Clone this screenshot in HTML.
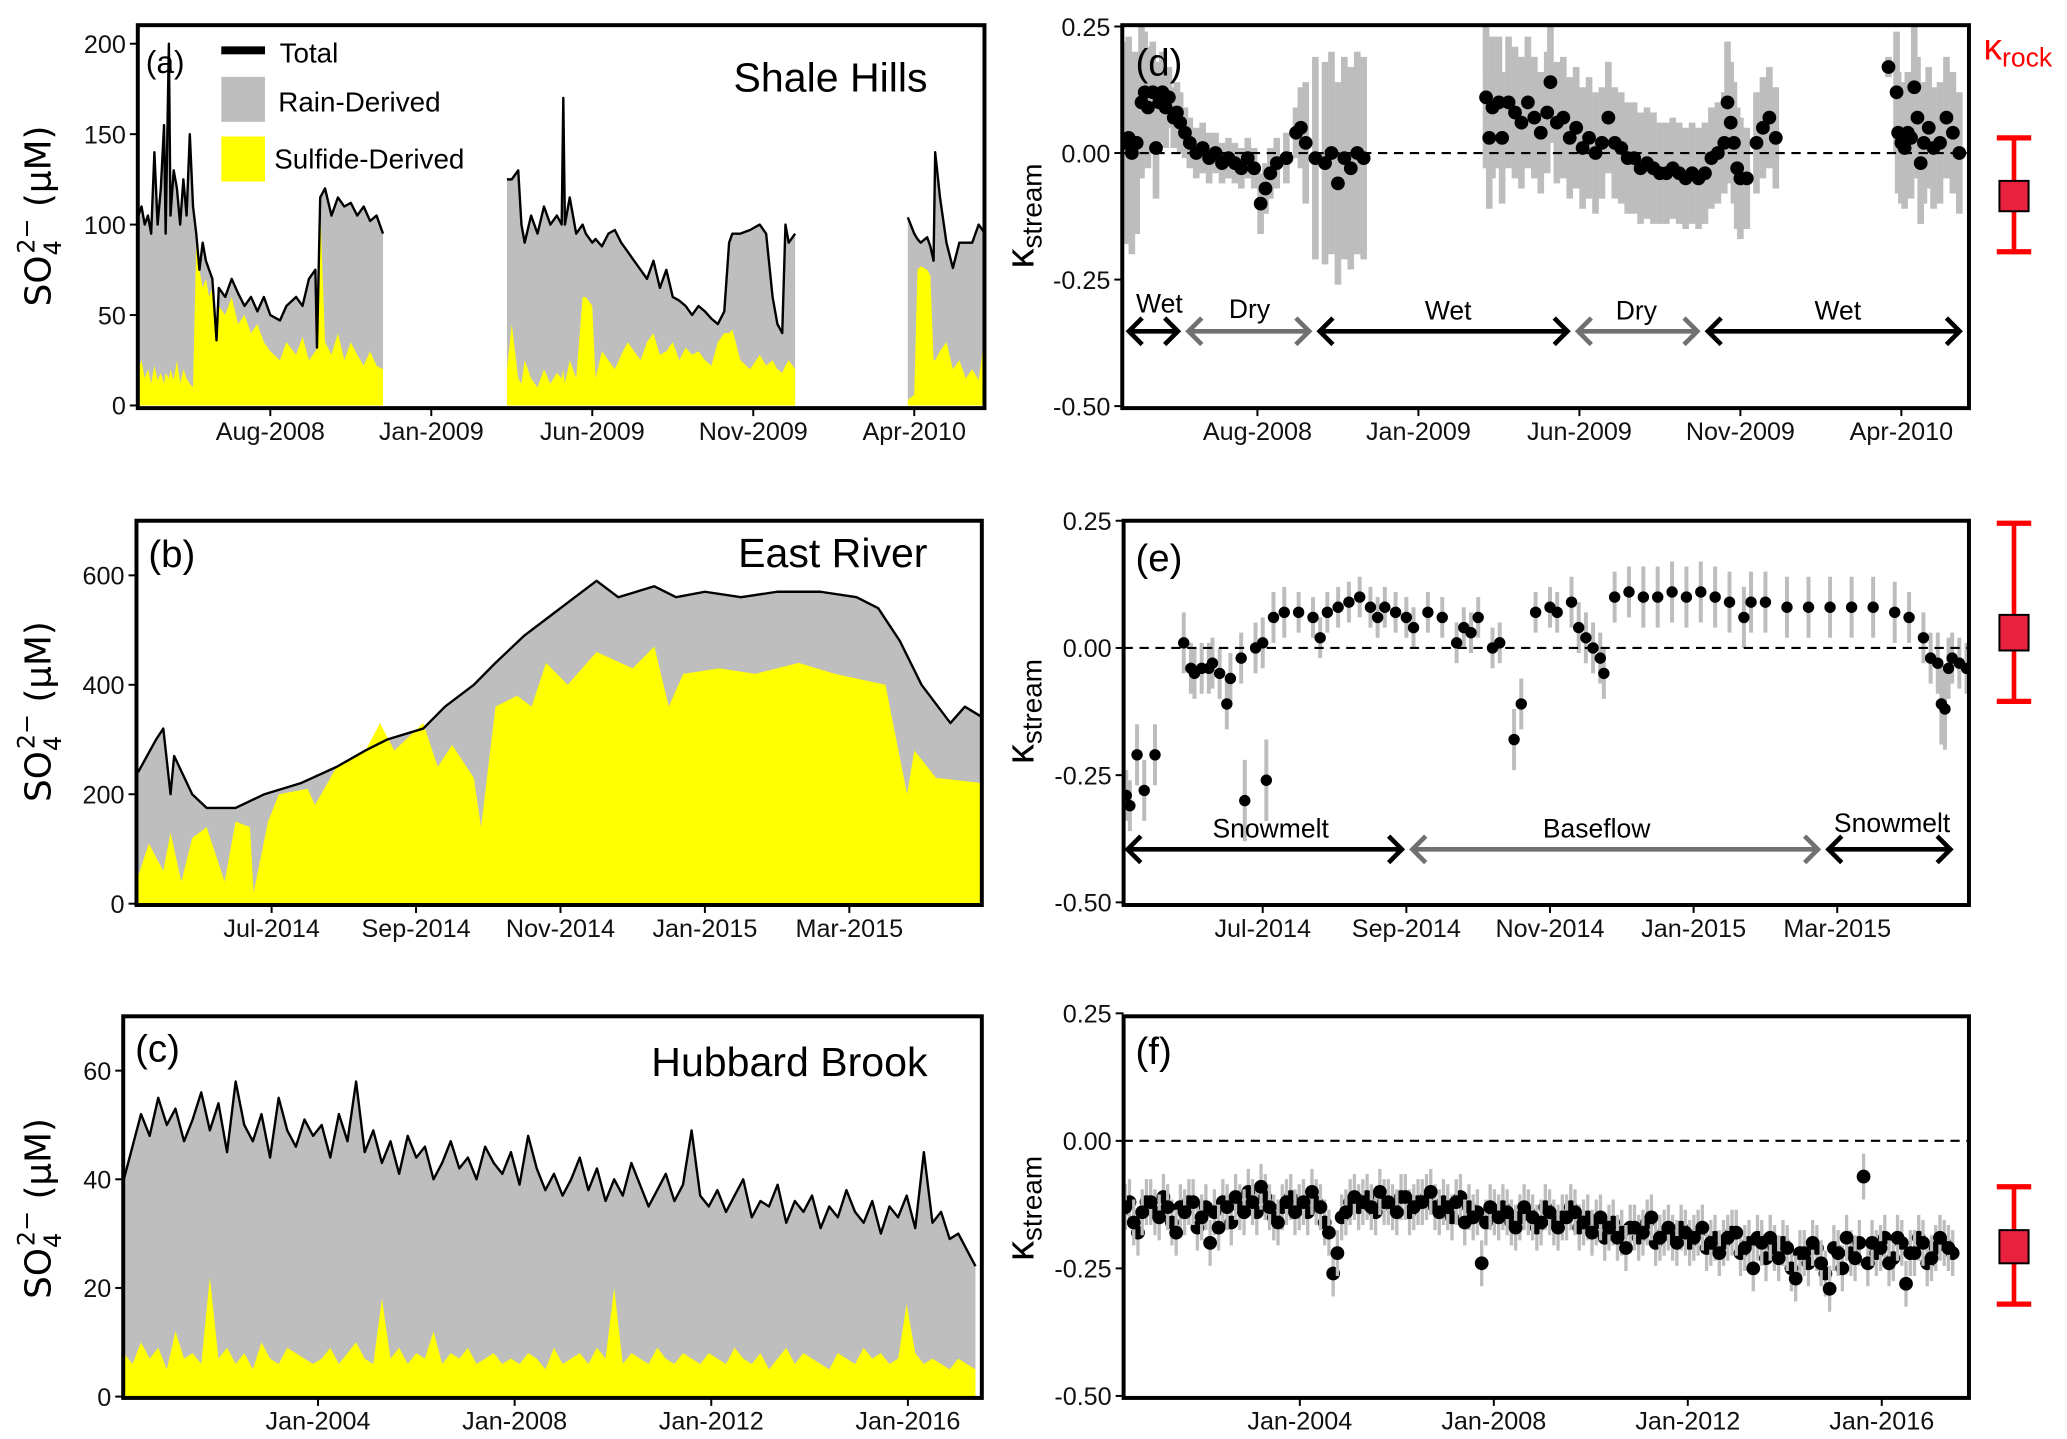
<!DOCTYPE html>
<html><head><meta charset="utf-8"><style>
html,body{margin:0;padding:0;background:#fff;}
svg{display:block;}
text{font-family:"Liberation Sans Narrow","Liberation Sans",sans-serif;}
.tk{font-size:19px;fill:#111;}
.big{font-family:"DejaVu Sans","Liberation Sans",sans-serif;}
</style></head><body>
<svg id="fig" width="2067" height="1439" viewBox="0 0 1560 1086" preserveAspectRatio="none" xmlns="http://www.w3.org/2000/svg">
<defs>
<clipPath id="ca"><rect x="104" y="19" width="639" height="289"/></clipPath>
<clipPath id="cb"><rect x="103" y="393" width="638" height="290"/></clipPath>
<clipPath id="cc"><rect x="93" y="767" width="648" height="288"/></clipPath>
<clipPath id="cd"><rect x="847" y="19" width="639" height="289"/></clipPath>
<clipPath id="ce"><rect x="848" y="393" width="638" height="290"/></clipPath>
<clipPath id="cf"><rect x="848" y="767" width="638" height="288"/></clipPath>
</defs>
<g id="layer"></g>
</svg>
<script>
// ---------- Panel (a) Shale Hills: month index (Jan-2008 = 0)
const aM1=[2.9,3.0,3.1,3.2,3.3,3.4,3.5,3.6,3.7,3.75,3.85,3.9,4.0,4.1,4.2,4.3,4.4,4.5,4.6,4.7,4.8,4.9,5.0,5.1,5.2,5.33,5.4,5.6,5.8,6.0,6.2,6.4,6.6,6.8,7.0,7.3,7.5,7.8,8.0,8.2,8.4,8.45,8.55,8.7,8.9,9.1,9.3,9.5,9.7,9.9,10.1,10.3,10.5];
const aT1=[105,110,100,105,95,140,100,120,155,95,200,105,130,120,100,125,105,150,110,95,75,90,80,75,70,36,65,60,70,62,55,60,52,60,50,47,55,60,55,70,75,32,115,120,105,115,110,112,105,110,102,105,95];
const aS1=[20,25,15,20,12,22,14,18,12,18,15,20,14,25,12,20,15,12,10,90,75,65,70,60,65,36,55,50,60,45,50,40,45,35,30,25,35,28,38,25,30,32,110,35,28,40,25,35,28,22,30,22,20];
const aM2=[14.35,14.5,14.7,14.8,14.9,15.1,15.3,15.5,15.7,15.9,16.05,16.1,16.15,16.3,16.5,16.7,16.8,17.0,17.1,17.3,17.5,17.7,17.9,18.1,18.3,18.5,18.7,18.9,19.1,19.3,19.5,19.7,19.9,20.1,20.3,20.5,20.7,20.9,21.1,21.25,21.35,21.6,21.9,22.2,22.4,22.6,22.75,22.9,23.0,23.1,23.3];
const aT2=[125,125,130,100,90,105,95,110,100,105,100,170,100,115,95,100,95,90,92,88,95,97,90,85,80,75,70,80,65,75,60,58,55,50,55,52,48,45,52,90,95,95,97,100,95,60,45,40,100,90,95];
const aS2=[20,45,15,12,25,15,10,20,12,18,15,20,12,25,15,60,60,55,15,30,25,20,28,35,30,25,35,40,28,30,35,25,32,28,30,25,22,35,40,40,42,25,20,28,22,25,20,18,22,25,20];
const aM3=[26.8,27.0,27.1,27.2,27.4,27.5,27.6,27.65,27.8,28.0,28.2,28.4,28.6,28.8,29.0,29.2,29.3];
const aT3=[104,95,92,90,93,88,80,140,115,90,76,90,90,90,100,95,85];
const aS3=[3,6,75,77,75,72,25,25,30,35,20,25,15,20,14,40,60];
const aYTicks=[0,50,100,150,200];
const adXTickMonths=[7,12,17,22,27];
const adXTickLabels=["Aug-2008","Jan-2009","Jun-2009","Nov-2009","Apr-2010"];
// ---------- Panel (b) East River: month index (Jan-2014 = 0)
const bMT=[4.15,4.4,4.5,4.6,4.65,4.9,5.1,5.5,5.9,6.4,6.9,7.3,7.6,8.1,8.4,8.8,9.1,9.5,9.8,10.2,10.5,10.8,11.3,11.6,12,12.5,13,13.6,14.1,14.4,14.7,15,15.4,15.6,15.85];
const bT=[240,300,320,200,270,200,175,175,200,220,250,280,300,320,360,400,440,490,520,560,590,560,580,560,570,560,570,570,560,540,480,400,330,360,340];
const bMS=[4.15,4.3,4.5,4.6,4.75,4.9,5.1,5.35,5.5,5.7,5.75,5.95,6.1,6.5,6.6,6.9,7.3,7.5,7.7,8.1,8.3,8.5,8.8,8.9,9.1,9.4,9.6,9.8,10.1,10.5,11,11.3,11.5,11.7,12.2,12.7,13.3,13.8,14.5,14.8,14.9,15.2,15.85];
const bS=[50,110,60,130,40,120,140,40,150,140,20,150,200,210,180,250,280,330,280,330,250,290,230,140,360,380,360,440,400,460,430,470,360,420,430,420,440,420,400,200,280,230,220];
const bYTicks=[0,200,400,600];
const beXTickMonths=[6,8,10,12,14];
const beXTickLabels=["Jul-2014","Sep-2014","Nov-2014","Jan-2015","Mar-2015"];
// ---------- Panel (c) Hubbard Brook: ~0.175-yr samples from 2000
const cT=[40,46,52,48,55,50,53,47,51,56,49,54,45,58,50,47,52,44,55,49,46,51,48,
50,44,52,47,58,45,49,43,47,41,48,44,46,40,43,47,42,44,40,46,43,41,45,
39,48,42,38,41,37,40,44,38,42,36,40,37,43,39,35,38,41,36,39,49,37,35,
38,34,37,40,33,36,35,39,32,36,34,37,31,35,33,38,34,32,36,30,35,33,37,31,45,32,34,29,30,27,24];
const cS=[8,6,10,7,9,5,12,7,8,6,22,7,9,6,8,5,10,7,6,9,8,7,6,
7,9,6,8,10,7,6,18,7,9,6,8,7,12,6,8,7,9,6,7,8,6,7,
6,8,7,5,9,6,7,8,6,9,7,20,6,8,7,6,9,7,6,8,7,6,8,
7,6,9,7,6,8,5,7,9,6,8,7,6,5,8,7,6,9,7,8,6,7,17,8,6,7,6,5,7,6,5];
const cYTicks=[0,20,40,60];
const cfXTickYears=[2004,2008,2012,2016];
const cfXTickLabels=["Jan-2004","Jan-2008","Jan-2012","Jan-2016"];
// ---------- Panel (d) kappa Shale Hills
const dM=[2.9,3.0,3.1,3.25,3.4,3.5,3.6,3.75,3.85,3.95,4.05,4.15,4.25,4.4,4.5,4.6,4.75,4.9,5.1,5.3,5.5,5.7,5.9,6.1,6.3,6.5,6.7,6.9,7.1,7.25,7.4,7.6,7.9,8.2,8.35,8.5,8.8,9.1,9.3,9.5,9.7,9.9,10.1,10.3,
14.1,14.2,14.3,14.5,14.6,14.8,15.0,15.2,15.4,15.6,15.8,16.0,16.1,16.3,16.5,16.7,16.9,17.1,17.3,17.5,17.7,17.9,18.1,18.3,18.5,18.7,18.9,19.1,19.3,19.5,19.7,19.9,20.1,20.3,20.5,20.7,20.9,21.1,21.3,21.5,21.6,21.7,21.8,21.9,22.0,22.2,22.5,22.7,22.9,23.1,
26.6,26.85,26.9,27.0,27.1,27.2,27.3,27.4,27.5,27.6,27.7,27.85,28.0,28.2,28.4,28.6,28.8];
const dK=[0.02,0.03,0.0,0.02,0.1,0.12,0.09,0.12,0.01,0.1,0.12,0.09,0.11,0.07,0.08,0.06,0.04,0.02,0.0,0.01,-0.01,0.0,-0.02,-0.01,-0.02,-0.03,-0.01,-0.03,-0.1,-0.07,-0.04,-0.02,-0.01,0.04,0.05,0.02,-0.01,-0.02,0.0,-0.06,-0.01,-0.03,0.0,-0.01,
0.11,0.03,0.09,0.1,0.03,0.1,0.08,0.06,0.1,0.07,0.04,0.08,0.14,0.06,0.07,0.03,0.05,0.01,0.03,0.0,0.02,0.07,0.02,0.01,-0.01,-0.01,-0.03,-0.02,-0.03,-0.04,-0.04,-0.03,-0.04,-0.05,-0.04,-0.05,-0.04,-0.01,0.0,0.02,0.1,0.06,0.02,-0.03,-0.05,-0.05,0.02,0.05,0.07,0.03,
0.17,0.12,0.04,0.02,0.01,0.04,0.03,0.13,0.07,-0.02,0.02,0.05,0.01,0.02,0.07,0.04,0.0];
const dErr=[0.2,0.2,0.2,0.18,0.15,0.12,0.12,0.1,0.1,0.08,0.08,0.08,0.06,0.06,0.06,0.06,0.05,0.05,0.05,0.05,0.05,0.04,0.04,0.04,0.04,0.04,0.04,0.04,0.06,0.05,0.05,0.05,0.05,0.05,0.08,0.12,0.2,0.2,0.2,0.2,0.2,0.2,0.2,0.2,
0.14,0.14,0.14,0.13,0.13,0.13,0.13,0.13,0.13,0.12,0.12,0.12,0.12,0.12,0.12,0.12,0.12,0.12,0.12,0.12,0.11,0.11,0.11,0.11,0.11,0.11,0.11,0.11,0.11,0.1,0.1,0.1,0.1,0.1,0.1,0.1,0.1,0.1,0.1,0.1,0.12,0.12,0.12,0.12,0.12,0.1,0.1,0.1,0.1,0.1,
0.02,0.12,0.12,0.12,0.12,0.12,0.12,0.12,0.12,0.12,0.12,0.12,0.12,0.12,0.12,0.12,0.12];
const dYTicks=[0.25,0,-0.25,-0.5];
const dYLabels=["0.25","0.00","-0.25","-0.50"];
// ---------- Panel (e) kappa East River
const eM=[4.1,4.15,4.25,4.35,4.5,4.9,5.0,5.05,5.15,5.25,5.3,5.4,5.5,5.55,5.7,5.75,5.9,6.0,6.05,6.15,6.3,6.5,6.7,6.8,6.9,7.05,7.2,7.35,7.5,7.6,7.7,7.85,8.0,8.1,8.3,8.5,8.7,8.8,8.9,9.0,9.2,9.3,9.5,9.6,9.8,10.0,10.1,10.3,10.4,10.5,10.6,10.7,10.75,10.9,11.1,11.3,11.5,11.7,11.9,12.1,12.3,12.5,12.7,12.8,13,13.3,13.6,13.9,14.2,14.5,14.8,15.0,15.2,15.3,15.4,15.45,15.5,15.55,15.6,15.7,15.8];
const eK=[-0.29,-0.31,-0.21,-0.28,-0.21,0.01,-0.04,-0.05,-0.04,-0.04,-0.03,-0.05,-0.11,-0.06,-0.02,-0.3,0.0,0.01,-0.26,0.06,0.07,0.07,0.06,0.02,0.07,0.08,0.09,0.1,0.08,0.06,0.08,0.07,0.06,0.04,0.07,0.06,0.01,0.04,0.03,0.06,0.0,0.01,-0.18,-0.11,0.07,0.08,0.07,0.09,0.04,0.02,0.0,-0.02,-0.05,0.1,0.11,0.1,0.1,0.11,0.1,0.11,0.1,0.09,0.06,0.09,0.09,0.08,0.08,0.08,0.08,0.08,0.07,0.06,0.02,-0.02,-0.03,-0.11,-0.12,-0.04,-0.02,-0.03,-0.04];
const eErr=[0.05,0.05,0.06,0.06,0.06,0.06,0.05,0.05,0.05,0.05,0.05,0.05,0.05,0.05,0.05,0.08,0.05,0.05,0.08,0.05,0.05,0.04,0.04,0.04,0.04,0.04,0.04,0.04,0.04,0.04,0.04,0.04,0.04,0.04,0.04,0.04,0.04,0.04,0.04,0.04,0.04,0.04,0.06,0.05,0.04,0.04,0.04,0.05,0.05,0.05,0.05,0.05,0.05,0.05,0.05,0.06,0.06,0.06,0.06,0.06,0.06,0.06,0.06,0.06,0.06,0.06,0.06,0.06,0.06,0.06,0.06,0.05,0.05,0.05,0.06,0.08,0.08,0.06,0.05,0.05,0.05];
// ---------- Panel (f) kappa Hubbard Brook (~0.175-yr samples from 2000, two interleaved sets)
const fK=[-0.15,-0.17,-0.13,-0.16,-0.14,-0.12,-0.15,-0.13,-0.18,-0.14,-0.12,-0.15,-0.2,-0.17,-0.13,-0.11,-0.14,-0.12,-0.09,-0.13,-0.16,-0.12,-0.14,
-0.12,-0.10,-0.13,-0.18,-0.22,-0.14,-0.11,-0.12,-0.13,-0.10,-0.12,-0.14,-0.11,-0.13,-0.12,-0.10,-0.14,-0.13,-0.12,-0.16,-0.15,-0.24,-0.13,
-0.15,-0.14,-0.17,-0.13,-0.15,-0.16,-0.14,-0.17,-0.15,-0.14,-0.16,-0.18,-0.15,-0.17,-0.19,-0.21,-0.17,-0.18,-0.15,-0.19,-0.17,-0.2,-0.18,
-0.19,-0.17,-0.2,-0.22,-0.19,-0.18,-0.21,-0.25,-0.2,-0.19,-0.23,-0.21,-0.27,-0.22,-0.2,-0.24,-0.29,-0.22,-0.19,-0.23,-0.07,-0.2,-0.21,-0.24,-0.19,-0.28,-0.22,-0.2,-0.23,-0.19,-0.21];
const fK2=[-0.13,-0.14,-0.12,-0.18,-0.12,-0.14,-0.11,-0.16,-0.13,-0.12,-0.17,-0.13,-0.14,-0.12,-0.16,-0.13,-0.1,-0.14,-0.11,-0.15,-0.13,-0.11,-0.13,
-0.14,-0.12,-0.16,-0.26,-0.15,-0.12,-0.13,-0.11,-0.14,-0.12,-0.13,-0.11,-0.14,-0.12,-0.11,-0.13,-0.12,-0.15,-0.11,-0.13,-0.14,-0.16,-0.14,
-0.13,-0.16,-0.15,-0.14,-0.17,-0.13,-0.16,-0.15,-0.13,-0.17,-0.15,-0.16,-0.19,-0.16,-0.18,-0.17,-0.19,-0.16,-0.2,-0.18,-0.19,-0.17,-0.2,
-0.18,-0.21,-0.19,-0.2,-0.18,-0.22,-0.2,-0.19,-0.23,-0.21,-0.2,-0.25,-0.22,-0.24,-0.21,-0.26,-0.21,-0.25,-0.22,-0.2,-0.24,-0.22,-0.19,-0.23,-0.2,-0.22,-0.19,-0.24,-0.21,-0.2,-0.22];
const fErr=0.045;
// ---------- kappa-rock boxes: [whiskerHi, boxHi, boxLo, whiskerLo]
const rockD=[0.03,-0.055,-0.115,-0.195];
const rockE=[0.245,0.065,-0.005,-0.105];
const rockF=[-0.09,-0.175,-0.24,-0.32];

const NS="http://www.w3.org/2000/svg";
const L=document.getElementById('layer');
function mk(tag,attrs,parent){const e=document.createElementNS(NS,tag);for(const k in attrs)e.setAttribute(k,attrs[k]);(parent||L).appendChild(e);return e;}
function txt(x,y,s,attrs,parent){const t=mk('text',Object.assign({x:x,y:y},attrs||{}),parent);t.textContent=s;return t;}

const axA=m=>204+(m-7)*24.3, ayA=v=>306-v*1.365;
const axB=m=>205+(m-6)*54.5, ayB=v=>682-v*0.413;
const cYear=i=>2000.05+i*0.175;
const axC=y=>240+(y-2004)*37.1, ayC=v=>1054-v*4.1;
const axD=m=>949+(m-7)*24.3, ayD=v=>115.5-v*382;
const axE=m=>953+(m-6)*54.2, ayE=v=>489-v*384;
const axF=y=>981+(y-2004)*36.6, ayF=v=>861-v*385;

function area(xs,vs,fx,fy,fill,clip,name){
  let p=fx(xs[0])+','+fy(0);
  for(let i=0;i<Math.min(xs.length,vs.length);i++)p+=' '+fx(xs[i])+','+fy(vs[i]);
  p+=' '+fx(xs[Math.min(xs.length,vs.length)-1])+','+fy(0);
  const e=mk('polygon',{points:p,fill:fill,'clip-path':'url(#'+clip+')'});
  
  
}
function line(xs,vs,fx,fy,clip,name){
  let p=[];for(let i=0;i<Math.min(xs.length,vs.length);i++)p.push(fx(xs[i])+','+fy(vs[i]));
  const e=mk('polyline',{points:p.join(' '),fill:'none',stroke:'#000','stroke-width':1.8,'stroke-linejoin':'round','clip-path':'url(#'+clip+')'});
  
  
}
function frame(x,y,w,h,name){
  const e=mk('rect',{x:x,y:y,width:w,height:h,fill:'none',stroke:'#000','stroke-width':3});
  
  
}
function yTicks(vals,labels,fy,x0,name){
  vals.forEach((v,i)=>{
    mk('line',{x1:x0-6,x2:x0,y1:fy(v),y2:fy(v),stroke:'#000','stroke-width':1.5});
    const t=txt(x0-9,fy(v)+7,labels[i],{class:'tk','text-anchor':'end'});
    
    
  });
}
function xTicks(vals,labels,fx,y0,name){
  vals.forEach((v,i)=>{
    mk('line',{x1:fx(v),x2:fx(v),y1:y0,y2:y0+6,stroke:'#000','stroke-width':1.5});
    const t=txt(fx(v),y0+24,labels[i],{class:'tk','text-anchor':'middle'});
    
    
  });
}
function soLabel(cx,cy,name){
  const g=mk('g',{transform:'translate('+cx+','+cy+') rotate(-90)'});
  
  
  const t=mk('text',{x:0,y:0,'text-anchor':'middle',class:'big','font-size':27},g);
  t.innerHTML='SO<tspan font-size="18" dy="8">4</tspan><tspan font-size="18" dx="-10" dy="-20">2−</tspan><tspan dy="12"> (μM)</tspan>';
}
function kLabel(cx,cy,name){
  const g=mk('g',{transform:'translate('+cx+','+cy+') rotate(-90)'});
  
  
  const t=mk('text',{x:0,y:0,'text-anchor':'middle','font-size':30},g);
  t.innerHTML='κ<tspan font-size="21" dy="6">stream</tspan>';
}
function points(xs,ks,errs,fx,fy,clip,r,name,bw){
  const n=Math.min(xs.length,ks.length);
  for(let i=0;i<n;i++){
    const er=Array.isArray(errs)?errs[i]:errs;
    const b=mk('line',{x1:fx(xs[i]),x2:fx(xs[i]),y1:fy(ks[i]+er),y2:fy(ks[i]-er),stroke:'#bdbdbd','stroke-width':bw,'clip-path':'url(#'+clip+')'});
    
    
  }
  for(let i=0;i<n;i++){
    const c=mk('circle',{cx:fx(xs[i]),cy:fy(ks[i]),r:r,fill:'#000','clip-path':'url(#'+clip+')'});
    
    
  }
}
function zero(x0,x1,fy,name){
  const e=mk('line',{x1:x0,x2:x1,y1:fy(0),y2:fy(0),stroke:'#000','stroke-width':1.6,'stroke-dasharray':'7,5'});
  
  
}
function rock(vals,fy,name){
  const x=1520;
  const g=mk('g',{});
  
  
  mk('line',{x1:x,x2:x,y1:fy(vals[0]),y2:fy(vals[3]),stroke:'#f00','stroke-width':3.5},g);
  mk('line',{x1:x-13,x2:x+13,y1:fy(vals[0]),y2:fy(vals[0]),stroke:'#f00','stroke-width':4},g);
  mk('line',{x1:x-13,x2:x+13,y1:fy(vals[3]),y2:fy(vals[3]),stroke:'#f00','stroke-width':4},g);
  mk('rect',{x:x-11,y:fy(vals[1]),width:22,height:fy(vals[2])-fy(vals[1]),fill:'#e8213f',stroke:'#000','stroke-width':1.5},g);
}
function arrow(x0,x1,y,col,name){
  const g=mk('g',{});
  
  
  mk('line',{x1:x0+2,x2:x1-2,y1:y,y2:y,stroke:col,'stroke-width':3.5},g);
  mk('polyline',{points:(x0+12)+','+(y-10)+' '+(x0+2)+','+y+' '+(x0+12)+','+(y+10),fill:'none',stroke:col,'stroke-width':3.5},g);
  mk('polyline',{points:(x1-12)+','+(y-10)+' '+(x1-2)+','+y+' '+(x1-12)+','+(y+10),fill:'none',stroke:col,'stroke-width':3.5},g);
}

// ===== Panel a
area(aM1,aT1,axA,ayA,'#bebebe','ca','rain-derived-area');
area(aM2,aT2,axA,ayA,'#bebebe','ca','rain-derived-area');
area(aM3,aT3,axA,ayA,'#bebebe','ca','rain-derived-area');
area(aM1,aS1,axA,ayA,'#ffff00','ca','sulfide-derived-area');
area(aM2,aS2,axA,ayA,'#ffff00','ca','sulfide-derived-area');
area(aM3,aS3,axA,ayA,'#ffff00','ca','sulfide-derived-area');
line(aM1,aT1,axA,ayA,'ca','total-line');
line(aM2,aT2,axA,ayA,'ca','total-line');
line(aM3,aT3,axA,ayA,'ca','total-line');
frame(104,19,639,289,'panel-a-frame');
yTicks(aYTicks,aYTicks.map(String),ayA,104,'y-tick-label');
xTicks(adXTickMonths,adXTickLabels,axA,308,'x-tick-label');
soLabel(38,163,'y-axis-title-a');

// ===== Panel b
area(bMT,bT,axB,ayB,'#bebebe','cb','rain-derived-area');
area(bMS,bS,axB,ayB,'#ffff00','cb','sulfide-derived-area');
line(bMT,bT,axB,ayB,'cb','total-line');
frame(103,393,638,290,'panel-b-frame');
yTicks(bYTicks,bYTicks.map(String),ayB,103,'y-tick-label');
xTicks(beXTickMonths,beXTickLabels,axB,683,'x-tick-label');
soLabel(38,537,'y-axis-title-b');

// ===== Panel c
const cYrs=cT.map((_,i)=>cYear(i));
area(cYrs,cT,axC,ayC,'#bebebe','cc','rain-derived-area');
area(cYrs,cS,axC,ayC,'#ffff00','cc','sulfide-derived-area');
line(cYrs,cT,axC,ayC,'cc','total-line');
frame(93,767,648,288,'panel-c-frame');
yTicks(cYTicks,cYTicks.map(String),ayC,93,'y-tick-label');
xTicks(cfXTickYears,cfXTickLabels,axC,1055,'x-tick-label');
soLabel(38,912,'y-axis-title-c');

// ===== Panel d
points(dM,dK,dErr,axD,ayD,'cd',5.2,'kappa-d',5);
zero(848,1486,ayD,'zero-line-d');
frame(847,19,639,289,'panel-d-frame');
yTicks(dYTicks,dYLabels,ayD,847,'y-tick-label');
xTicks(adXTickMonths,adXTickLabels,axD,308,'x-tick-label');
kLabel(780,163,'y-axis-title-d');
rock(rockD,ayD,'kappa-rock-d');

// ===== Panel e
points(eM,eK,eErr,axE,ayE,'ce',4.3,'kappa-e',3);
zero(848,1486,ayE,'zero-line-e');
frame(848,393,638,290,'panel-e-frame');
yTicks(dYTicks,dYLabels,ayE,848,'y-tick-label');
xTicks(beXTickMonths,beXTickLabels,axE,683,'x-tick-label');
kLabel(780,537,'y-axis-title-e');
rock(rockE,ayE,'kappa-rock-e');

// ===== Panel f
const fYrs=fK.map((_,i)=>cYear(i));
const fYrs2=fK2.map((_,i)=>cYear(i)+0.0875);
points(fYrs2,fK2,fErr,axF,ayF,'cf',5.2,'kappa-f',2.5);
points(fYrs,fK,fErr,axF,ayF,'cf',5.2,'kappa-f',2.5);
zero(848,1486,ayF,'zero-line-f');
frame(848,767,638,288,'panel-f-frame');
yTicks(dYTicks,dYLabels,ayF,848,'y-tick-label');
xTicks(cfXTickYears,cfXTickLabels,axF,1055,'x-tick-label');
kLabel(780,912,'y-axis-title-f');
rock(rockF,ayF,'kappa-rock-f');

// ===== Annotations
arrow(850,891,250,'#000','wet-arrow-1');
arrow(895,990,250,'#707070','dry-arrow-1');
arrow(994,1185,250,'#000','wet-arrow-2');
arrow(1189,1283,250,'#707070','dry-arrow-2');
arrow(1287,1481,250,'#000','wet-arrow-3');
arrow(849,1060,641,'#000','snowmelt-arrow-1');
arrow(1064,1374,641,'#707070','baseflow-arrow');
arrow(1378,1474,641,'#000','snowmelt-arrow-2');
</script>
<script>
const S=document.getElementById('fig');
function T(x,y,s,fs,name,extra){
  const t=document.createElementNS("http://www.w3.org/2000/svg",'text');
  t.setAttribute('x',x);t.setAttribute('y',y);t.setAttribute('font-size',fs);
  t.setAttribute('font-family','"DejaVu Sans","Liberation Sans",sans-serif');
  if(extra)for(const k in extra)t.setAttribute(k,extra[k]);
  t.textContent=s;
  
  
  S.appendChild(t);return t;
}
T(110,55,'(a)',24,'panel-a-label');
T(700,69,'Shale Hills',31,'site-title-shale-hills',{'text-anchor':'end'});
T(112,428,'(b)',29,'panel-b-label');
T(700,428,'East River',31,'site-title-east-river',{'text-anchor':'end'});
T(102,801,'(c)',29,'panel-c-label');
T(700,812,'Hubbard Brook',31,'site-title-hubbard-brook',{'text-anchor':'end'});
T(857,57,'(d)',29,'panel-d-label');
T(857,431,'(e)',29,'panel-e-label');
T(857,803,'(f)',29,'panel-f-label');
T(211,47,'Total',21,'legend-total-label');
T(210,84,'Rain-Derived',21,'legend-rain-label');
T(207,127,'Sulfide-Derived',21,'legend-sulfide-label');
T(875,236,'Wet',20,'season-wet-1',{'text-anchor':'middle'});
T(943,240,'Dry',20,'season-dry-1',{'text-anchor':'middle'});
T(1093,241,'Wet',20,'season-wet-2',{'text-anchor':'middle'});
T(1235,241,'Dry',20,'season-dry-2',{'text-anchor':'middle'});
T(1387,241,'Wet',20,'season-wet-3',{'text-anchor':'middle'});
T(959,632,'Snowmelt',20,'season-snowmelt-1',{'text-anchor':'middle'});
T(1205,632,'Baseflow',20,'season-baseflow',{'text-anchor':'middle'});
T(1428,628,'Snowmelt',20,'season-snowmelt-2',{'text-anchor':'middle'});
const kr=T(1497,45,'',28,'kappa-rock-label',{fill:'#f00'});
kr.innerHTML='κ<tspan font-size="20" dy="5">rock</tspan>';
function R(x,y,w,h,f,name){const r=document.createElementNS("http://www.w3.org/2000/svg",'rect');
r.setAttribute('x',x);r.setAttribute('y',y);r.setAttribute('width',w);r.setAttribute('height',h);r.setAttribute('fill',f);
S.appendChild(r);}
R(167,35,33,6,'#000','legend-total-swatch');
R(167,58,33,34,'#bebebe','legend-rain-swatch');
R(167,103,33,34,'#ffff00','legend-sulfide-swatch');
</script>
</body></html>
